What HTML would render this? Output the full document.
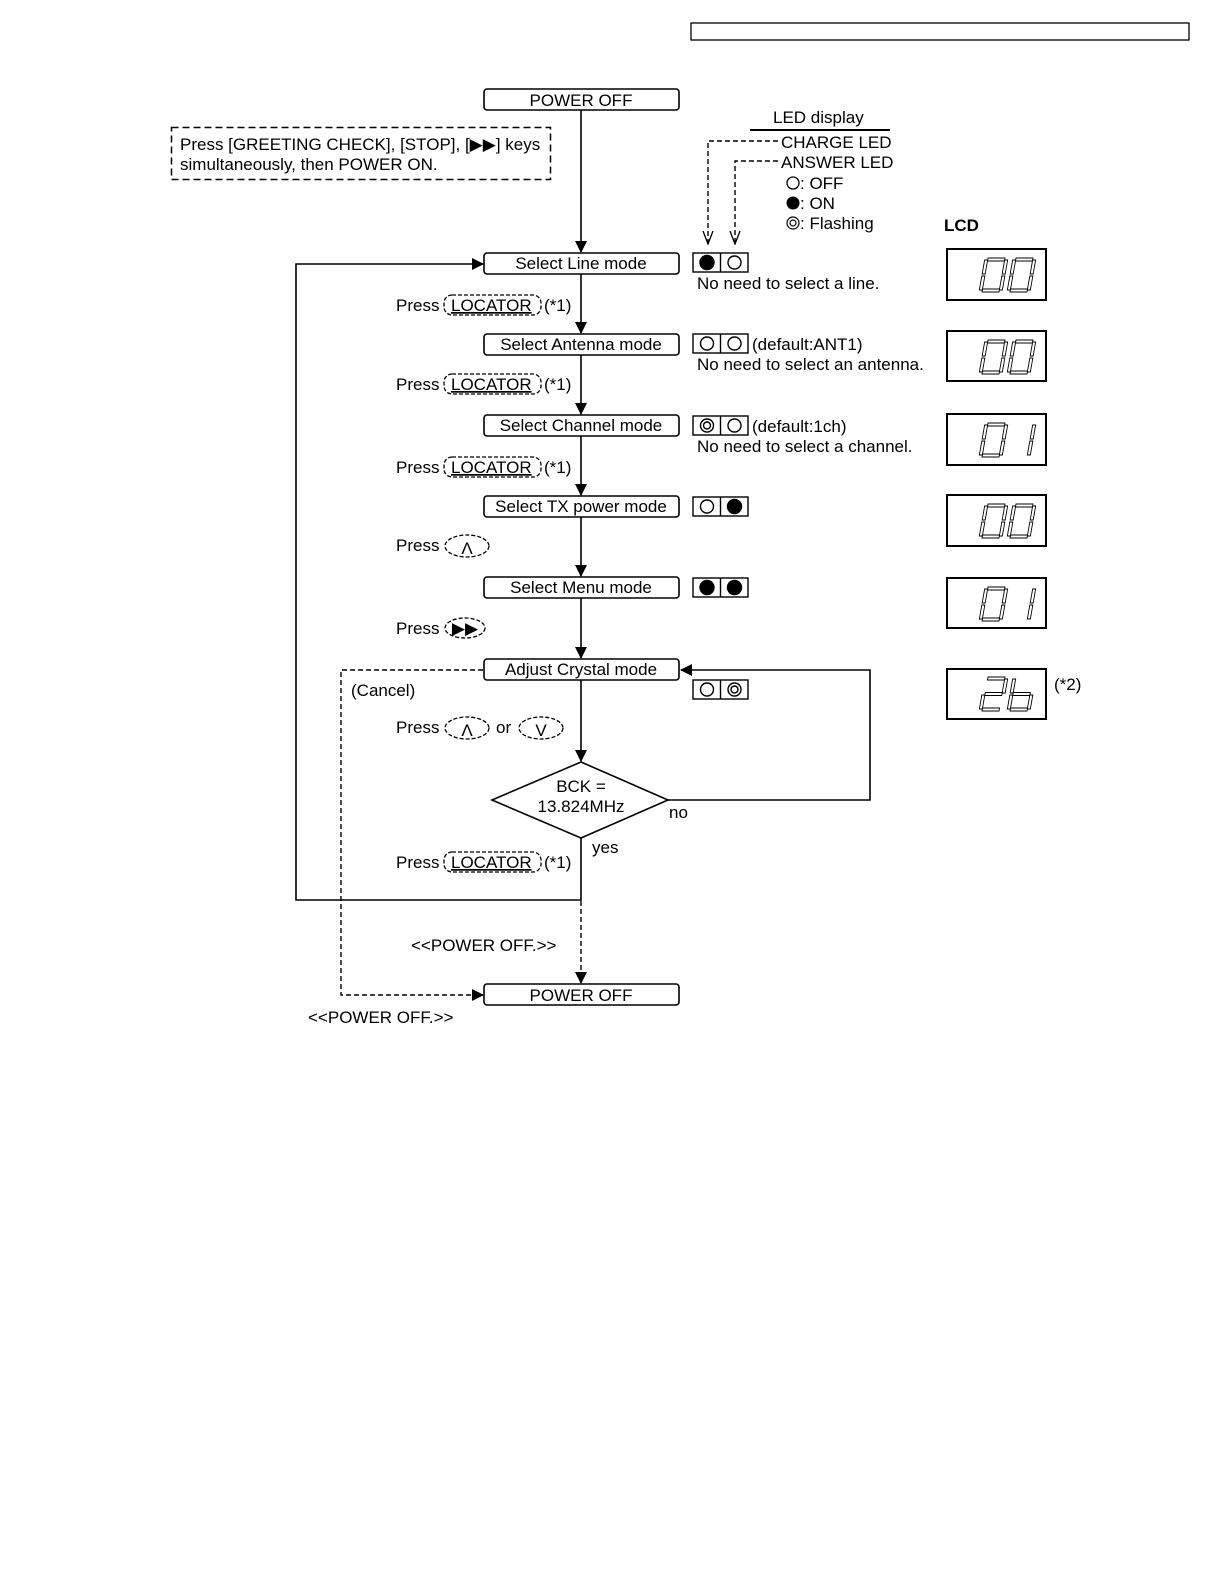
<!DOCTYPE html>
<html><head><meta charset="utf-8"><style>
html,body{margin:0;padding:0;background:#fff;overflow:hidden;width:1224px;height:1584px}
svg{display:block}
text{font-family:"Liberation Sans",sans-serif;font-size:17px;fill:#000}
</style></head><body>
<svg width="1224" height="1584" viewBox="0 0 1224 1584" xmlns="http://www.w3.org/2000/svg">
<defs>
<marker id="ar" markerWidth="12" markerHeight="12" refX="11" refY="6" orient="auto" markerUnits="userSpaceOnUse"><path d="M0,0 L12,6 L0,12 Z" fill="#000"/></marker>
<marker id="ao" markerWidth="14" markerHeight="14" refX="13" refY="7" orient="auto" markerUnits="userSpaceOnUse"><path d="M0,2 L13,7 L0,12" fill="none" stroke="#000" stroke-width="1.3"/></marker>
<g id="sa"><rect x="3" y="0" width="17" height="3"/></g>
<g id="sb"><rect x="20" y="2" width="3" height="14"/></g>
<g id="sc"><rect x="20" y="18" width="3" height="14"/></g>
<g id="sd"><rect x="3" y="31" width="17" height="3"/></g>
<g id="se"><rect x="0" y="18" width="3" height="14"/></g>
<g id="sf"><rect x="0" y="2" width="3" height="14"/></g>
<g id="sg"><rect x="3" y="15.5" width="17" height="3"/></g>
<g id="d0" fill="#fff" stroke="#000" stroke-width="0.9"><use href="#sa"/><use href="#sb"/><use href="#sc"/><use href="#sd"/><use href="#se"/><use href="#sf"/></g>
<g id="d1" fill="#fff" stroke="#000" stroke-width="0.9"><use href="#sb"/><use href="#sc"/></g>
<g id="d2" fill="#fff" stroke="#000" stroke-width="0.9"><use href="#sa"/><use href="#sb"/><use href="#sg"/><use href="#se"/><use href="#sd"/></g>
<g id="db" fill="#fff" stroke="#000" stroke-width="0.9"><use href="#sf"/><use href="#se"/><use href="#sg"/><use href="#sc"/><use href="#sd"/></g>
</defs>

<rect x="691" y="23" width="498" height="17" fill="none" stroke="#000" stroke-width="1.3"/>

<rect x="171.5" y="127.5" width="379" height="52" fill="none" stroke="#000" stroke-width="1.5" stroke-dasharray="7,4"/>
<text x="180" y="150">Press [GREETING CHECK], [STOP], [▶▶] keys</text>
<text x="180" y="170">simultaneously, then POWER ON.</text>

<g stroke="#000" stroke-width="1.6" fill="none">
<line x1="581" y1="110" x2="581" y2="252" marker-end="url(#ar)"/>
<line x1="581" y1="274" x2="581" y2="333" marker-end="url(#ar)"/>
<line x1="581" y1="355" x2="581" y2="414" marker-end="url(#ar)"/>
<line x1="581" y1="436" x2="581" y2="495" marker-end="url(#ar)"/>
<line x1="581" y1="517" x2="581" y2="576" marker-end="url(#ar)"/>
<line x1="581" y1="598" x2="581" y2="658" marker-end="url(#ar)"/>
<line x1="581" y1="680" x2="581" y2="761" marker-end="url(#ar)"/>
<polyline points="581,838 581,900 296,900 296,264 483,264" marker-end="url(#ar)"/>
<polyline points="668,800 870,800 870,670 681,670" marker-end="url(#ar)"/>
<polygon points="492,800 581,762 668,800 581,838" fill="#fff"/>
</g>
<g stroke="#000" stroke-width="1.4" fill="none" stroke-dasharray="5,3">
<line x1="581" y1="901" x2="581" y2="983" marker-end="url(#ar)"/>
<polyline points="483,670 341,670 341,995 483,995" marker-end="url(#ar)"/>
<polyline points="778,141 708,141 708,244" marker-end="url(#ao)"/>
<polyline points="778,161 735,161 735,244" marker-end="url(#ao)"/>
</g>
<line x1="750" y1="130" x2="890" y2="130" stroke="#000" stroke-width="2"/>

<g fill="#fff" stroke="#000" stroke-width="1.6">
<rect x="484" y="89" width="195" height="21" rx="3"/>
<rect x="484" y="253" width="195" height="21" rx="3"/>
<rect x="484" y="334" width="195" height="21" rx="3"/>
<rect x="484" y="415" width="195" height="21" rx="3"/>
<rect x="484" y="496" width="195" height="21" rx="3"/>
<rect x="484" y="577" width="195" height="21" rx="3"/>
<rect x="484" y="659" width="195" height="21" rx="3"/>
<rect x="484" y="984" width="195" height="21" rx="3"/>
</g>
<g text-anchor="middle">
<text x="581" y="106">POWER OFF</text>
<text x="581" y="269">Select Line mode</text>
<text x="581" y="350">Select Antenna mode</text>
<text x="581" y="431">Select Channel mode</text>
<text x="581" y="512">Select TX power mode</text>
<text x="581" y="593">Select Menu mode</text>
<text x="581" y="675">Adjust Crystal mode</text>
<text x="581" y="1001">POWER OFF</text>
<text x="581" y="792">BCK =</text>
<text x="581" y="812">13.824MHz</text>
</g>
<text x="669" y="818">no</text>
<text x="592" y="853">yes</text>
<text x="351" y="696">(Cancel)</text>
<text x="411" y="951">&lt;&lt;POWER OFF.&gt;&gt;</text>
<text x="308" y="1023">&lt;&lt;POWER OFF.&gt;&gt;</text>

<g>
<text x="396" y="311">Press</text><rect x="444" y="295" width="97" height="20" rx="8" fill="none" stroke="#000" stroke-width="1.3" stroke-dasharray="4,2"/><text x="451" y="311" text-decoration="underline">LOCATOR</text><text x="544" y="311">(*1)</text>
<text x="396" y="390">Press</text><rect x="444" y="374" width="97" height="20" rx="8" fill="none" stroke="#000" stroke-width="1.3" stroke-dasharray="4,2"/><text x="451" y="390" text-decoration="underline">LOCATOR</text><text x="544" y="390">(*1)</text>
<text x="396" y="473">Press</text><rect x="444" y="457" width="97" height="20" rx="8" fill="none" stroke="#000" stroke-width="1.3" stroke-dasharray="4,2"/><text x="451" y="473" text-decoration="underline">LOCATOR</text><text x="544" y="473">(*1)</text>
<text x="396" y="868">Press</text><rect x="444" y="852" width="97" height="20" rx="8" fill="none" stroke="#000" stroke-width="1.3" stroke-dasharray="4,2"/><text x="451" y="868" text-decoration="underline">LOCATOR</text><text x="544" y="868">(*1)</text>
<text x="396" y="551">Press</text><ellipse cx="467" cy="546" rx="22" ry="11" fill="none" stroke="#000" stroke-width="1.3" stroke-dasharray="4,2"/><text x="467" y="554" text-anchor="middle">Λ</text>
<text x="396" y="634">Press</text><ellipse cx="465" cy="628" rx="20" ry="10" fill="none" stroke="#000" stroke-width="1.3" stroke-dasharray="4,2"/><text x="465" y="634" text-anchor="middle" font-size="13">▶▶</text>
<text x="396" y="733">Press</text><ellipse cx="467" cy="728" rx="22" ry="11" fill="none" stroke="#000" stroke-width="1.3" stroke-dasharray="4,2"/><text x="467" y="736" text-anchor="middle">Λ</text>
<text x="496" y="733">or</text><ellipse cx="541" cy="728" rx="22" ry="11" fill="none" stroke="#000" stroke-width="1.3" stroke-dasharray="4,2"/><text x="541" y="736" text-anchor="middle">V</text>
</g>

<text x="773" y="123">LED display</text>
<text x="781" y="148">CHARGE LED</text>
<text x="781" y="168">ANSWER LED</text>
<circle cx="793" cy="183" r="6" fill="none" stroke="#000" stroke-width="1.3"/><text x="800" y="189">: OFF</text>
<circle cx="793" cy="203" r="6.5" fill="#000"/><text x="800" y="209">: ON</text>
<circle cx="793" cy="223" r="6" fill="none" stroke="#000" stroke-width="1.2"/><circle cx="793" cy="223" r="3" fill="none" stroke="#000" stroke-width="1.2"/><text x="800" y="229">: Flashing</text>
<text x="944" y="231" font-weight="bold" font-size="17">LCD</text>

<g stroke="#000" stroke-width="1.4" fill="none">
<rect x="693" y="253" width="55" height="19"/><line x1="720.5" y1="253" x2="720.5" y2="272"/>
<circle cx="707" cy="262.5" r="7" fill="#000"/><circle cx="734.5" cy="262.5" r="6.5"/>
<rect x="693" y="334" width="55" height="19"/><line x1="720.5" y1="334" x2="720.5" y2="353"/>
<circle cx="707" cy="343.5" r="6.5"/><circle cx="734.5" cy="343.5" r="6.5"/>
<rect x="693" y="416" width="55" height="19"/><line x1="720.5" y1="416" x2="720.5" y2="435"/>
<circle cx="707" cy="425.5" r="6.5"/><circle cx="707" cy="425.5" r="3.5"/><circle cx="734.5" cy="425.5" r="6.5"/>
<rect x="693" y="497" width="55" height="19"/><line x1="720.5" y1="497" x2="720.5" y2="516"/>
<circle cx="707" cy="506.5" r="6.5"/><circle cx="734.5" cy="506.5" r="7" fill="#000"/>
<rect x="693" y="578" width="55" height="19"/><line x1="720.5" y1="578" x2="720.5" y2="597"/>
<circle cx="707" cy="587.5" r="7" fill="#000"/><circle cx="734.5" cy="587.5" r="7" fill="#000"/>
<rect x="693" y="680" width="55" height="19"/><line x1="720.5" y1="680" x2="720.5" y2="699"/>
<circle cx="707" cy="689.5" r="6.5"/><circle cx="734.5" cy="689.5" r="6.5"/><circle cx="734.5" cy="689.5" r="3.5"/>
</g>
<text x="697" y="289">No need to select a line.</text>
<text x="752" y="350">(default:ANT1)</text>
<text x="697" y="370">No need to select an antenna.</text>
<text x="752" y="432">(default:1ch)</text>
<text x="697" y="452">No need to select a channel.</text>

<g fill="none" stroke="#000" stroke-width="2">
<rect x="947" y="249" width="99" height="51"/>
<rect x="947" y="331" width="99" height="50"/>
<rect x="947" y="414" width="99" height="51"/>
<rect x="947" y="495" width="99" height="51"/>
<rect x="947" y="578" width="99" height="50"/>
<rect x="947" y="669" width="99" height="50"/>
</g>
<use href="#d0" transform="translate(985,258) skewX(-10)"/><use href="#d0" transform="translate(1013,258) skewX(-10)"/>
<use href="#d0" transform="translate(985,340) skewX(-10)"/><use href="#d0" transform="translate(1013,340) skewX(-10)"/>
<use href="#d0" transform="translate(985,423) skewX(-10)"/><use href="#d1" transform="translate(1013,423) skewX(-10)"/>
<use href="#d0" transform="translate(985,504) skewX(-10)"/><use href="#d0" transform="translate(1013,504) skewX(-10)"/>
<use href="#d0" transform="translate(985,587) skewX(-10)"/><use href="#d1" transform="translate(1013,587) skewX(-10)"/>
<use href="#d2" transform="translate(985,677) skewX(-10)"/><use href="#db" transform="translate(1013,677) skewX(-10)"/>
<text x="1054" y="690">(*2)</text>
</svg>
</body></html>
